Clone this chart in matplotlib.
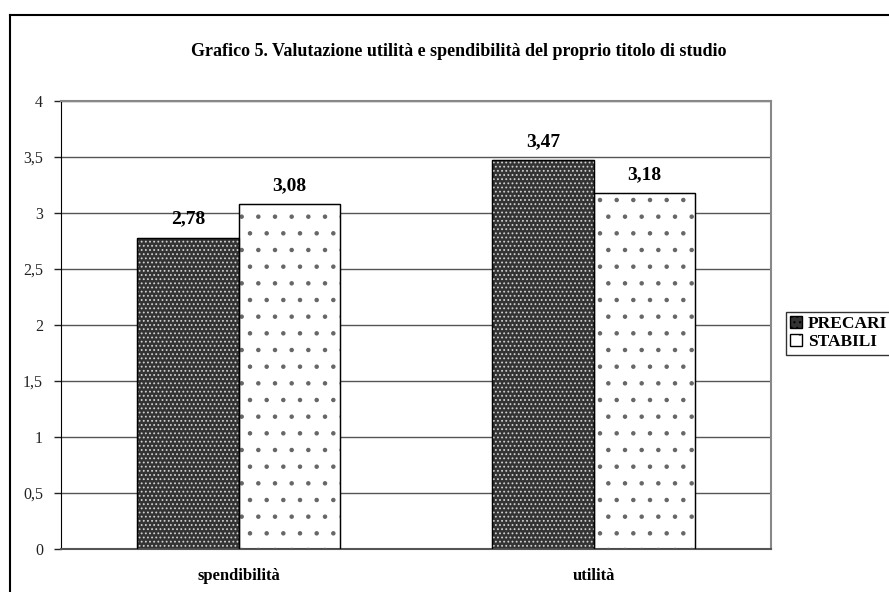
import numpy as np
import matplotlib.pyplot as plt
from matplotlib.lines import Line2D

categories = ['spendibilità', 'utilità']
precari = [2.78, 3.47]
stabili = [3.08, 3.18]
series_names = ['PRECARI', 'STABILI']
yticks = [0, 0.5, 1, 1.5, 2, 2.5, 3, 3.5, 4]
ytick_labels = ['0', '0,5', '1', '1,5', '2', '2,5', '3', '3,5', '4']

plt.rcParams['font.family'] = ['Liberation Serif', 'DejaVu Serif']
plt.rcParams['hatch.linewidth'] = 0.8

W, H = 889, 592
fig = plt.figure(figsize=(W / 100, H / 100), dpi=100)
ax = fig.add_axes([61 / W, 1 - 549 / H, 710 / W, 448 / H])

x = np.arange(len(categories))
w = 0.285


def hatched_bars(xpos, vals, face, dots, hatch):
    ax.bar(xpos, vals, w, color=face, edgecolor='black', linewidth=0.9, zorder=2)
    ax.bar(xpos, vals, w, fill=False, edgecolor=dots, hatch=hatch, linewidth=0, zorder=3)
    ax.bar(xpos, vals, w, fill=False, edgecolor='black', linewidth=0.9, zorder=4)


hatched_bars(x - w / 2, precari, '#333333', '#d0d0d0', '....')
hatched_bars(x + w / 2, stabili, 'white', '#666666', '.')

for xi, v in zip(x - w / 2, precari):
    ax.text(xi, v + 0.09, f'{v:.2f}'.replace('.', ','), ha='center', va='bottom',
            fontsize=14, fontweight='bold')
for xi, v in zip(x + w / 2, stabili):
    ax.text(xi, v + 0.09, f'{v:.2f}'.replace('.', ','), ha='center', va='bottom',
            fontsize=14, fontweight='bold')

ax.set_xlim(-0.5, 1.5)
ax.set_ylim(0, 4)
ax.set_yticks(yticks)
ax.set_yticklabels(ytick_labels, fontsize=11.5)
ax.set_xticks(x)
ax.set_xticklabels(categories, fontsize=12, fontweight='bold')
ax.tick_params(axis='x', length=0, pad=14)
ax.tick_params(axis='y', direction='out', length=5, width=1, pad=8, colors='#222222')
ax.yaxis.grid(True, color='#555555', linewidth=1, zorder=0)
ax.set_axisbelow(True)
for s in ['top', 'right']:
    ax.spines[s].set_color('#888888')
    ax.spines[s].set_linewidth(1.5)
ax.spines['left'].set_color('black')
ax.spines['bottom'].set_color('#555555')
ax.spines['bottom'].set_linewidth(1.5)

fig.text(459 / W, 1 - 52 / H,
         'Grafico 5. Valutazione utilità e spendibilità del proprio titolo di studio',
         ha='center', va='center', fontsize=13, fontweight='bold')

# outer frame
fig.add_artist(Line2D([10 / W, 10 / W], [0, 1 - 15 / H], transform=fig.transFigure,
                      color='black', linewidth=1.5))
fig.add_artist(Line2D([10 / W, 1], [1 - 15 / H, 1 - 15 / H], transform=fig.transFigure,
                      color='black', linewidth=1.5))

# legend
h1 = plt.Rectangle((0, 0), 1, 1, facecolor='#333333', edgecolor='black', hatch='...')
h2 = plt.Rectangle((0, 0), 1, 1, facecolor='white', edgecolor='black', hatch='.')
leg = fig.legend([h1, h2], series_names, loc='upper left',
                 bbox_to_anchor=(786 / W, 1 - 312 / H), frameon=True, fancybox=False,
                 edgecolor='black', prop={'weight': 'bold', 'size': 12.5},
                 handlelength=0.7, handleheight=0.7, handletextpad=0.3,
                 borderpad=0.25, labelspacing=0.1, borderaxespad=0)
leg.get_frame().set_linewidth(1)

fig.savefig('out.png', dpi=100)
